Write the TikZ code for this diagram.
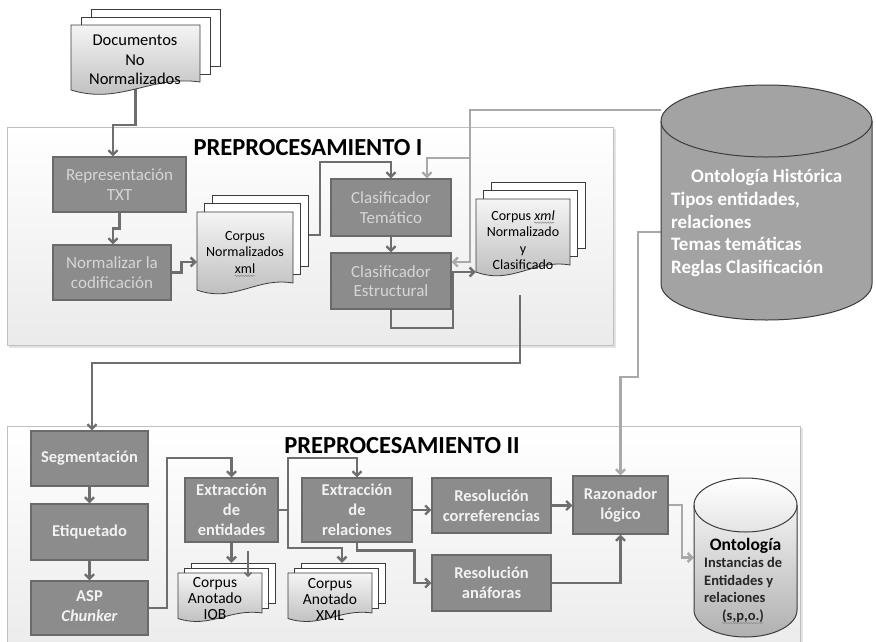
\documentclass[tikz,border=0pt]{standalone}
\usepackage{fontspec}
\setmainfont{Carlito}
\usetikzlibrary{arrows.meta,decorations.pathmorphing}
\definecolor{boxfill}{HTML}{8C8C8C}
\definecolor{boxline}{HTML}{6A6A6A}
\definecolor{connc}{HTML}{6E6E6E}
\definecolor{lconnc}{HTML}{A9A9A9}
\definecolor{boxtxt}{HTML}{D6D6D6}
\definecolor{wavec}{HTML}{8A8A8A}
\definecolor{docline}{HTML}{3C3C3C}
\newsavebox\gwbox
\newcommand\gwave[1]{\sbox\gwbox{#1}\usebox\gwbox\llap{\tikz[baseline=0pt]\draw[wavec, line width=0.5pt, decorate,
  decoration={snake, amplitude=0.7pt, segment length=2.6pt}] (0pt,-2.6pt) -- (\wd\gwbox,-2.6pt);}}
\pgfdeclarelayer{bg}\pgfdeclarelayer{cn}\pgfsetlayers{bg,cn,main}
\tikzset{
  procU/.style={draw=boxline, line width=1.2pt, fill=boxfill, text=boxtxt, align=center, inner sep=0pt,
     font=\fontsize{17}{19.5}\selectfont},
  procL/.style={draw=boxline, line width=1.2pt, fill=boxfill, text=white!95!black, align=center, inner sep=0pt,
     font=\bfseries\fontsize{16.5}{20}\selectfont},
  doctxt/.style={align=center, inner sep=0pt, text=black},
  cn/.style={draw=connc, line width=2.4pt, line join=miter},
  lcn/.style={draw=lconnc, line width=2.4pt, line join=miter},
  arr/.style={-{Straight Barb[length=4.5pt,width=9pt]}},
  region/.style={draw=gray!50, line width=0.8pt, top color=white, bottom color=gray!16},
  ttl/.style={font=\bfseries\fontsize{24.5}{26}\selectfont, text=black, inner sep=0pt},
  dline/.style={draw=docline, line width=0.8pt}
}
% #1 name, #2 x1, #3 y1, #4 x2, #5 y2, #6 dx, #7 dy, #8 wave amplitude
\newcommand\mdoc[8]{%
  \draw[dline, fill=white] (#2+2*#6,#3-2*#7) rectangle (#4+2*#6,#5-2*#7);
  \draw[dline, fill=white] (#2+#6,#3-#7) rectangle (#4+#6,#5-#7);
  \draw[dline, top color=gray!8, bottom color=gray!55]
    (#2,#3) -- (#4,#3) -- (#4,#5)
    .. controls ({#2+0.62*(#4-#2)},{#5-0.9*#8}) and ({#2+0.38*(#4-#2)},{#5+2.9*#8}) ..
    (#2,#5+#8) -- cycle;
  \pgfmathsetmacro\dw{#4-#2}\pgfmathsetmacro\dh{#5-#3}%
  \node[inner sep=0pt, minimum width=\dw pt, minimum height=\dh pt] (#1) at ({(#2+#4)/2},{(#3+#5)/2}) {};
}
\begin{document}
\begin{tikzpicture}[x=1pt,y=-1pt]
\clip (0,0) rectangle (876,641);

% regions
\begin{pgfonlayer}{bg}
\fill[white] (0,0) rectangle (876,641);
\fill[gray!22] (9,129) rectangle (616,348);
\draw[region] (7,127) rectangle (613,345);
\fill[gray!22] (9,428) rectangle (803,660);
\draw[region] (7,426) rectangle (800,660);
\end{pgfonlayer}

\node[ttl] (t1) at (308,148) {PREPROCESAMIENTO I};
\node[ttl] (t2) at (402,446) {PREPROCESAMIENTO II};

% documents
\mdoc{doc1}{71}{25}{200}{82}{10}{8}{8}
\node[doctxt, font=\fontsize{16.5}{19.5}\selectfont] (doc1t) at (135,60) {Documentos\\No\\Normalizados};

\mdoc{corpN}{197}{212}{293}{283}{7.5}{8.5}{7}
\node[doctxt, font=\fontsize{14}{16.5}\selectfont] (corpNt) at (245,254) {Corpus\\Normalizados\\\gwave{xml}};

\mdoc{corpC}{476}{199}{570}{265}{7.5}{8.5}{7}
\node[doctxt, font=\fontsize{14}{16.5}\selectfont] (corpCt) at (523,240) {Corpus \gwave{\itshape xml}\\Normalizado\\y\\Clasificado};

\mdoc{corpI}{178}{573}{262}{613}{6.5}{5}{5.5}
\node[doctxt, font=\fontsize{15.5}{16}\selectfont] (corpIt) at (215,599) {Corpus\\Anotado\\IOB};

\mdoc{corpX}{288}{573}{372}{613}{6.5}{5}{5.5}
\node[doctxt, font=\fontsize{15.5}{16}\selectfont] (corpXt) at (330,599) {Corpus\\Anotado\\XML};

% process boxes upper
\node[procU, minimum width=133pt, minimum height=55pt] (rep) at (119.5,184.5) {Representación\\TXT};
\node[procU, minimum width=118pt, minimum height=55pt] (norm) at (112,272.5) {Normalizar la\\codificación};
\node[procU, minimum width=120pt, minimum height=57pt] (tem) at (391,207.5) {Clasificador\\Temático};
\node[procU, minimum width=120pt, minimum height=56pt] (est) at (391,281) {Clasificador\\Estructural};

% process boxes lower
\node[procL, minimum width=117pt, minimum height=55pt] (seg) at (89.5,458.5) {Segmentación};
\node[procL, minimum width=117pt, minimum height=56pt] (eti) at (89.5,532) {Etiquetado};
\node[procL, minimum width=117pt, minimum height=54pt] (asp) at (89.5,608) {ASP\\\gwave{\itshape Chunker}};
\node[procL, minimum width=93pt, minimum height=64pt] (ent) at (231.5,510) {Extracción\\de\\entidades};
\node[procL, minimum width=110pt, minimum height=64pt] (rel) at (357,510) {Extracción\\de\\relaciones};
\node[procL, minimum width=119pt, minimum height=55pt] (corr) at (491.5,505.5) {Resolución\\correferencias};
\node[procL, minimum width=119pt, minimum height=56pt] (ana) at (491.5,583) {Resolución\\anáforas};
\node[procL, minimum width=95pt, minimum height=58pt] (raz) at (620.5,505) {Razonador\\lógico};

% big cylinder
\draw[draw=docline, line width=1pt, fill=gray!72]
  (661,121) -- (661,284) arc[start angle=180, end angle=0, x radius=105.5, y radius=36]
  -- (872,121) arc[start angle=0, end angle=-180, x radius=105.5, y radius=36] -- cycle;
\draw[draw=docline, line width=1pt] (661,121) arc[start angle=180, end angle=0, x radius=105.5, y radius=36];
\node[inner sep=0pt, minimum width=211pt, minimum height=235pt] (ontH) at (766.5,202.5) {};
\node[anchor=west, align=left, inner sep=0pt, text=white, font=\bfseries\fontsize{19}{22.7}\selectfont] (ontHt) at (671,223)
  {\hspace{20pt}Ontología Histórica\\Tipos entidades,\\relaciones\\Temas temáticas\\Reglas Clasificación};

% small cylinder
\draw[draw=docline, line width=1pt, top color=white, bottom color=gray!62]
  (694,505) -- (694,610) arc[start angle=180, end angle=0, x radius=51.5, y radius=27]
  -- (797,505) arc[start angle=0, end angle=-180, x radius=51.5, y radius=27] -- cycle;
\draw[draw=docline, line width=1pt] (694,505) arc[start angle=180, end angle=0, x radius=51.5, y radius=27];
\node[inner sep=0pt, minimum width=103pt, minimum height=159pt] (ontS) at (745.5,557.5) {};
\node[inner sep=0pt, text=black, font=\bfseries\fontsize{17.5}{20}\selectfont] (ontSt) at (745.5,546) {Ontología};
\node[anchor=north west, align=left, inner sep=0pt, text=black!85, font=\bfseries\fontsize{14.5}{17.7}\selectfont] (ontSb) at (704,557)
  {Instancias de\\Entidades y\\relaciones\\\hspace{18pt}\gwave{(s,p,o.)}};

% connectors
\begin{pgfonlayer}{cn}
\draw[cn,arr] (doc1.south) |- (113,125) -- ([xshift=-6.5pt]rep.north);
\draw[cn,arr] (rep.south) -- ++(0,16) -| ([xshift=1pt]norm.north);
\draw[cn,arr] (norm.east) -- ++(10,0) |- ([yshift=-14.5pt]corpN.west);
\draw[cn,arr] ([xshift=15pt,yshift=12.5pt]corpN.east) -- (320,235) |- (391,162) -- (tem.north);
\draw[cn,arr] (tem.south) -- (est.north);
\draw[lcn,arr] ([yshift=92.5pt]ontH.west) -- (470,110) -- (470,262) -- ([yshift=19pt]est.east);
\draw[lcn,arr] (470,158) -| ([xshift=36pt]tem.north);
\draw[cn,arr] ([yshift=9pt]est.east) -- ([yshift=-40pt]corpC.west);
\draw[cn] (est.south) |- (453,328) -- (453,272);
\draw[cn,arr] ([xshift=-3pt,yshift=-30pt]corpC.south) -- (520,363) -| ([xshift=2.5pt]seg.north);
\draw[lcn,arr] ([yshift=-29.5pt]ontH.west) -- (638,232) -- (638,377) -| (raz.north);

\draw[cn,arr] (seg.south) -- (eti.north);
\draw[cn,arr] (eti.south) -- (asp.north);
\draw[cn,arr] (asp.east) -- (167,608) |- (231.5,458) -- (ent.north);
\draw[cn,arr] (ent.east) -- (288,510) |- (357,458) -- (rel.north);
\draw[cn,arr] (288,510) |- (342,548) -- ([xshift=12pt,yshift=10pt]corpX.north);
\draw[cn,arr] (ent.south) -- ([xshift=11.5pt,yshift=10pt]corpI.north);
\draw[cn,arr] (rel.east) -- (rel.east -| corr.west);
\draw[cn,arr] (rel.south) -- ++(0,8) -| ([xshift=-17pt]ana.west) -- (ana.west);
\draw[cn,arr] (corr.east) -- (corr.east -| raz.west);
\draw[cn,arr] (ana.east) -| (raz.south);
\draw[lcn,arr] (raz.east) -- (682,505) |- (ontS.west);
\end{pgfonlayer}
\coordinate (sa) at (248,551);
\coordinate (sb) at (248,577);
\draw[draw=connc, line width=1.5pt, -{Straight Barb[length=3.5pt,width=7pt]}] (sa) -- (sb);
\end{tikzpicture}
\end{document}
